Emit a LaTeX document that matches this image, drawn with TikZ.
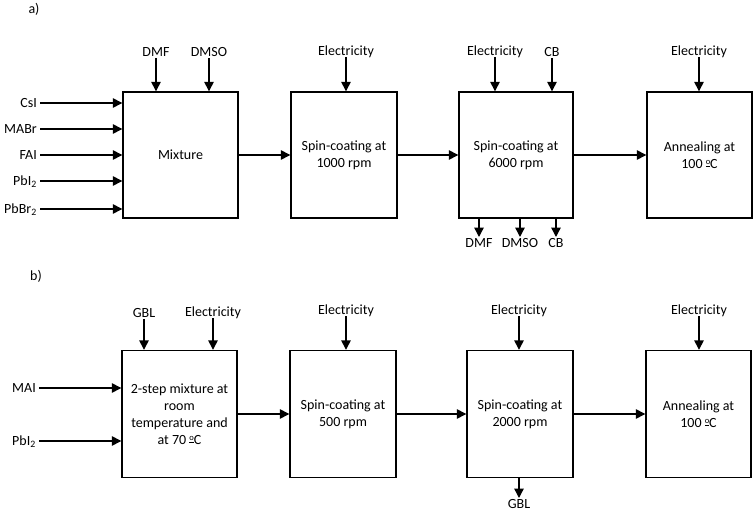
\documentclass[tikz,border=0pt]{standalone}
\usepackage{fontspec}
\setmainfont{Carlito}
\usetikzlibrary{arrows.meta}
\newcommand\myordo{\raisebox{0.5ex}{\fontsize{8.5}{8.5}\selectfont$\underline{\hbox{o}}$}}
\begin{document}
\begin{tikzpicture}[x=1pt,y=-1pt,
  font=\fontsize{14}{17}\selectfont,
  box/.style={draw, line width=1.4pt, inner sep=0pt, align=center, minimum height=126pt},
  lbl/.style={inner sep=1.5pt, text height=9pt, text depth=0pt},
  flow/.style={line width=1.4pt, -{Triangle[length=9.5pt,width=9.5pt]}}]
\useasboundingbox (0,0) rectangle (756,511);

% ---------- a) ----------
\node[lbl] (la) at (34,9) {a)};
\node[box, minimum width=115pt] (a1) at (180.5,155) {Mixture};
\node[box, minimum width=106pt] (a2) at (344,155) {Spin-coating at\\1000 rpm};
\node[box, minimum width=114pt] (a3) at (516,155) {Spin-coating at\\6000 rpm};
\node[box, minimum width=105pt] (a4) at (699.5,155) {Annealing at\\100 \myordo C};

\foreach \n/\t/\y in {csi/CsI/103, mabr/MABr/129, fai/FAI/155, pbi/PbI\textsubscript{2}/181, pbbr/PbBr\textsubscript{2}/209}{
  \node[lbl, anchor=east, inner sep=3pt] (\n) at (40,\y) {\t};
  \draw[flow] (\n.east) -- (\n.east -| a1.west);
}

\node[lbl, anchor=south] (admf) at (156,58) {DMF};
\node[lbl, anchor=south] (admso) at (209,58) {DMSO};
\node[lbl, anchor=south] (ael2) at (346,57) {Electricity};
\node[lbl, anchor=south] (ael3) at (495,57) {Electricity};
\node[lbl, anchor=south] (acb) at (552,58) {CB};
\node[lbl, anchor=south] (ael4) at (699,57) {Electricity};
\foreach \l/\b in {admf/a1, admso/a1, ael2/a2, ael3/a3, acb/a3, ael4/a4}{
  \draw[flow] (\l.south) -- (\l.south |- \b.north);
}

\node[lbl, anchor=north] (odmf) at (479,237) {DMF};
\node[lbl, anchor=north] (odmso) at (520,237) {DMSO};
\node[lbl, anchor=north] (ocb) at (556,237) {CB};
\foreach \l in {odmf, odmso, ocb}{
  \draw[flow] (\l.north |- a3.south) -- (\l.north);
}

\draw[flow] (a1.east) -- (a2.west);
\draw[flow] (a2.east) -- (a3.west);
\draw[flow] (a3.east) -- (a4.west);

% ---------- b) ----------
\node[lbl] (lb) at (36,276) {b)};
\node[box, minimum width=115pt, minimum height=127pt] (b1) at (179.5,414) {2-step mixture at\\room\\temperature and\\at 70 \myordo C};
\node[box, minimum width=106pt, minimum height=127pt] (b2) at (343,414) {Spin-coating at\\500 rpm};
\node[box, minimum width=106pt, minimum height=127pt] (b3) at (520,414) {Spin-coating at\\2000 rpm};
\node[box, minimum width=105pt, minimum height=127pt] (b4) at (698.5,414) {Annealing at\\100 \myordo C};

\node[lbl, anchor=east, inner sep=3pt] (mai) at (39,388) {MAI};
\node[lbl, anchor=east, inner sep=3pt] (bpbi) at (39,441) {PbI\textsubscript{2}};
\draw[flow] (mai.east) -- (mai.east -| b1.west);
\draw[flow] (bpbi.east) -- (bpbi.east -| b1.west);

\node[lbl, anchor=south] (bgbl) at (144,319) {GBL};
\node[lbl, anchor=south] (bel1) at (213,318) {Electricity};
\node[lbl, anchor=south] (bel2) at (346,316) {Electricity};
\node[lbl, anchor=south] (bel3) at (519,316) {Electricity};
\node[lbl, anchor=south] (bel4) at (699,316) {Electricity};
\foreach \l/\b in {bgbl/b1, bel1/b1, bel2/b2, bel3/b3, bel4/b4}{
  \draw[flow] (\l.south) -- (\l.south |- \b.north);
}

\node[lbl, anchor=north] (ogbl) at (519,498) {GBL};
\draw[flow] (ogbl.north |- b3.south) -- (ogbl.north);

\draw[flow] (b1.east) -- (b2.west);
\draw[flow] (b2.east) -- (b3.west);
\draw[flow] (b3.east) -- (b4.west);
\end{tikzpicture}
\end{document}
